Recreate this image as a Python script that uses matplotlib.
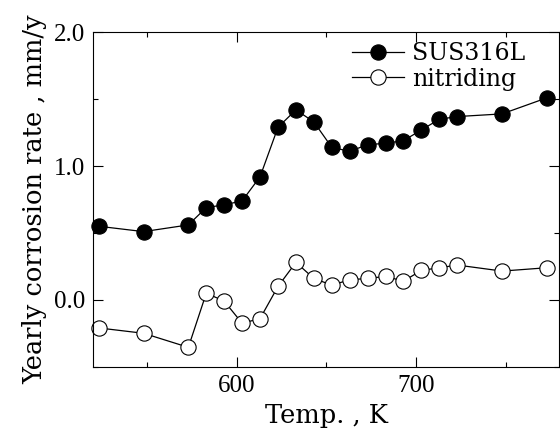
import numpy as np
import matplotlib.pyplot as plt
from matplotlib.ticker import MultipleLocator

temp = [523, 548, 573, 583, 593, 603, 613, 623, 633, 643,
        653, 663, 673, 683, 693, 703, 713, 723, 748, 773]
sus316l = [0.55, 0.51, 0.56, 0.69, 0.71, 0.74, 0.92, 1.29, 1.42, 1.33,
           1.14, 1.11, 1.16, 1.17, 1.19, 1.27, 1.35, 1.37, 1.39, 1.51]
nitriding = [-0.21, -0.25, -0.355, 0.05, -0.01, -0.175, -0.14, 0.10, 0.28, 0.16,
             0.11, 0.15, 0.16, 0.175, 0.14, 0.22, 0.24, 0.26, 0.215, 0.24]

label_font = "DejaVu Serif"
tick_font = "Liberation Serif"

fig = plt.figure(figsize=(5.6, 4.34), dpi=100)
ax = fig.add_axes([0.1667, 0.155, 0.8323, 0.7706])

ax.plot(temp, sus316l, "-o", color="black", lw=0.9, ms=11,
        mfc="black", mec="black", mew=0.8, label="SUS316L", clip_on=False)
ax.plot(temp, nitriding, "-o", color="black", lw=0.9, ms=11,
        mfc="white", mec="black", mew=0.8, label="nitriding", clip_on=False)

ax.set_xlim(520, 780)
ax.set_ylim(-0.5, 2.0)
ax.xaxis.set_major_locator(MultipleLocator(100))
ax.xaxis.set_minor_locator(MultipleLocator(50))
ax.yaxis.set_major_locator(MultipleLocator(1.0))
ax.yaxis.set_minor_locator(MultipleLocator(0.5))
ax.yaxis.set_major_formatter(plt.FormatStrFormatter("%.1f"))

ax.tick_params(which="both", direction="in", top=True, right=True, width=0.8)
ax.tick_params(which="major", length=7.2, pad=6)
ax.tick_params(which="minor", length=3.5)
for lab in ax.get_xticklabels() + ax.get_yticklabels():
    lab.set_fontfamily(tick_font)
    lab.set_fontsize(18)
for sp in ax.spines.values():
    sp.set_linewidth(0.8)

ax.set_xlabel("Temp. , K", family=label_font, fontsize=18.5, labelpad=4)
ax.set_ylabel("Yearly corrosion rate , mm/y", family=label_font, fontsize=18.5,
              labelpad=5)

ax.legend(loc="upper left", bbox_to_anchor=(0.555, 0.97), frameon=False,
          prop={"family": label_font, "size": 17}, handlelength=2.2,
          handletextpad=0.35, labelspacing=0.1, borderpad=0,
          borderaxespad=0)

fig.savefig("out.png", dpi=100)
